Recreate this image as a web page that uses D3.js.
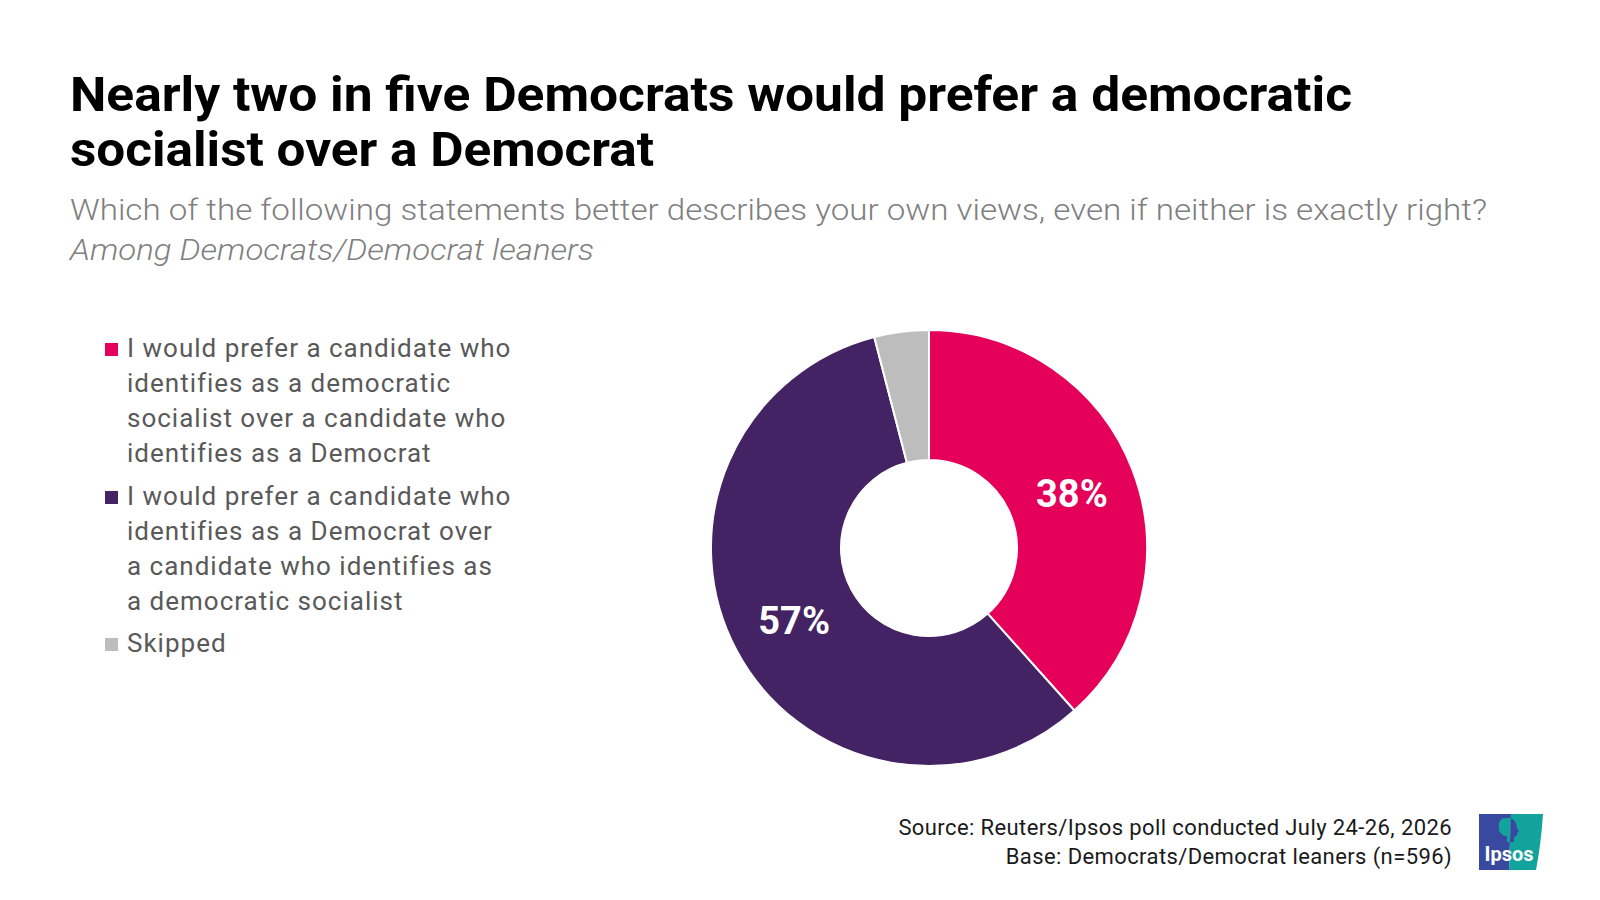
<!DOCTYPE html>
<html>
<head>
<meta charset="utf-8">
<script src="https://cdn.jsdelivr.net/npm/d3@7"></script>
<style>
  body { margin: 0; background: #fff; }
  svg text { font-family: Roboto, "Noto Sans", sans-serif; }
</style>
</head>
<body>
<svg id="chart" width="1600" height="900"></svg>
<script>
// datos
var categories = [
  "I would prefer a candidate who identifies as a democratic socialist over a candidate who identifies as a Democrat",
  "I would prefer a candidate who identifies as a Democrat over a candidate who identifies as a democratic socialist",
  "Skipped"
];
var legendLines = [
  ["I would prefer a candidate who", "identifies as a democratic", "socialist over a candidate who", "identifies as a Democrat"],
  ["I would prefer a candidate who", "identifies as a Democrat over", "a candidate who identifies as", "a democratic socialist"],
  ["Skipped"]
];
var values = [38, 57, 4];
var valueLabels = ["38%", "57%", ""];
var colors = ["#e5005a", "#432364", "#bdbdbd"];

var titleLines = ["Nearly two in five Democrats would prefer a democratic", "socialist over a Democrat"];
var subtitle = "Which of the following statements better describes your own views, even if neither is exactly right?";
var subtitle2 = "Among Democrats/Democrat leaners";
var sourceLines = ["Source: Reuters/Ipsos poll conducted July 24-26, 2026", "Base: Democrats/Democrat leaners (n=596)"];

var svg = d3.select("#chart");

// titulo
var titleW = [1282, 584];
svg.selectAll("text.title")
  .data(titleLines)
  .enter()
  .append("text")
  .attr("class", "title")
  .attr("x", 70)
  .attr("y", function(d, i){ return 111 + i * 55; })
  .attr("font-size", 48)
  .attr("font-weight", 700)
  .attr("fill", "#000")
  .attr("textLength", function(d, i){ return titleW[i]; })
  .attr("lengthAdjust", "spacingAndGlyphs")
  .text(function(d){ return d; });

svg.append("text")
  .attr("x", 70).attr("y", 220)
  .attr("font-size", 30)
  .attr("font-weight", 300)
  .attr("fill", "#7f7f7f")
  .attr("textLength", 1417)
  .attr("lengthAdjust", "spacingAndGlyphs")
  .text(subtitle);

svg.append("text")
  .attr("x", 70).attr("y", 260)
  .attr("font-size", 30)
  .attr("font-weight", 300)
  .attr("font-style", "italic")
  .attr("fill", "#7f7f7f")
  .attr("textLength", 524)
  .attr("lengthAdjust", "spacingAndGlyphs")
  .text(subtitle2);

// leyenda
var legendY = [357, 505, 652];
var legend = svg.append("g");
legendLines.forEach(function(lines, i){
  var g = legend.append("g").attr("transform", "translate(0," + legendY[i] + ")");
  g.append("rect")
    .attr("x", 105).attr("y", -14)
    .attr("width", 13).attr("height", 13)
    .attr("fill", colors[i]);
  g.selectAll("text")
    .data(lines)
    .enter()
    .append("text")
    .attr("x", 127)
    .attr("y", function(d, j){ return j * 35; })
    .attr("font-size", 26)
    .attr("letter-spacing", 1)
    .attr("fill", "#595959")
    .text(function(d){ return d; });
});

// donut
var cx = 929, cy = 548;
var outerR = 218, innerR = 88;
var pie = d3.pie().sort(null).value(function(d){ return d; });
var arc = d3.arc().innerRadius(innerR).outerRadius(outerR);
var arcs = pie(values);

var donut = svg.append("g").attr("transform", "translate(" + cx + "," + cy + ")");
donut.selectAll("path")
  .data(arcs)
  .enter()
  .append("path")
  .attr("d", arc)
  .attr("fill", function(d, i){ return colors[i]; })
  .attr("stroke", "#fff")
  .attr("stroke-width", 2);

donut.selectAll("text")
  .data(arcs)
  .enter()
  .append("text")
  .attr("x", function(d){ return arc.centroid(d)[0]; })
  .attr("y", function(d){ return arc.centroid(d)[1]; })
  .attr("dy", "0.36em")
  .attr("text-anchor", "middle")
  .attr("font-size", 38)
  .attr("font-weight", 700)
  .attr("fill", "#fff")
  .text(function(d, i){ return valueLabels[i]; });

// fuente
svg.selectAll("text.source")
  .data(sourceLines)
  .enter()
  .append("text")
  .attr("class", "source")
  .attr("x", 1452)
  .attr("y", function(d, i){ return 835 + i * 29; })
  .attr("text-anchor", "end")
  .attr("font-size", 22)
  .attr("letter-spacing", 0.4)
  .attr("fill", "#1a1a1a")
  .text(function(d){ return d; });

// logo ipsos
var logo = svg.append("g").attr("transform", "translate(1479,814)");
var defs = svg.append("defs");
defs.append("clipPath").attr("id", "clipL")
  .append("path").attr("d", "M0,0 L32,0 L30,56 L0,56 Z");
defs.append("clipPath").attr("id", "clipR")
  .append("path").attr("d", "M32,0 L64,0 Q62,30 57,56 L30,56 Z");
logo.append("path").attr("d", "M0,0 L32,0 L30,56 L0,56 Z").attr("fill", "#3a49a0");
logo.append("path").attr("d", "M32,0 L64,0 Q62,30 57,56 L30,56 Z").attr("fill", "#11a39c");
var head = "M27,4 C21,4 19,9 20,13 C19,18 23,22 28,22 L28,28 L35,28 L35,23 C37,23 39,21 38,19 L40,17 L38,15 C38,9 35,4 30,4 Z";
logo.append("path").attr("d", head).attr("fill", "#11a39c").attr("clip-path", "url(#clipL)");
logo.append("path").attr("d", head).attr("fill", "#3a49a0").attr("clip-path", "url(#clipR)");
logo.append("text")
  .attr("x", 30).attr("y", 47)
  .attr("text-anchor", "middle")
  .attr("font-size", 20)
  .attr("font-weight", 700)
  .attr("fill", "#fff")
  .text("Ipsos");
</script>
</body>
</html>
